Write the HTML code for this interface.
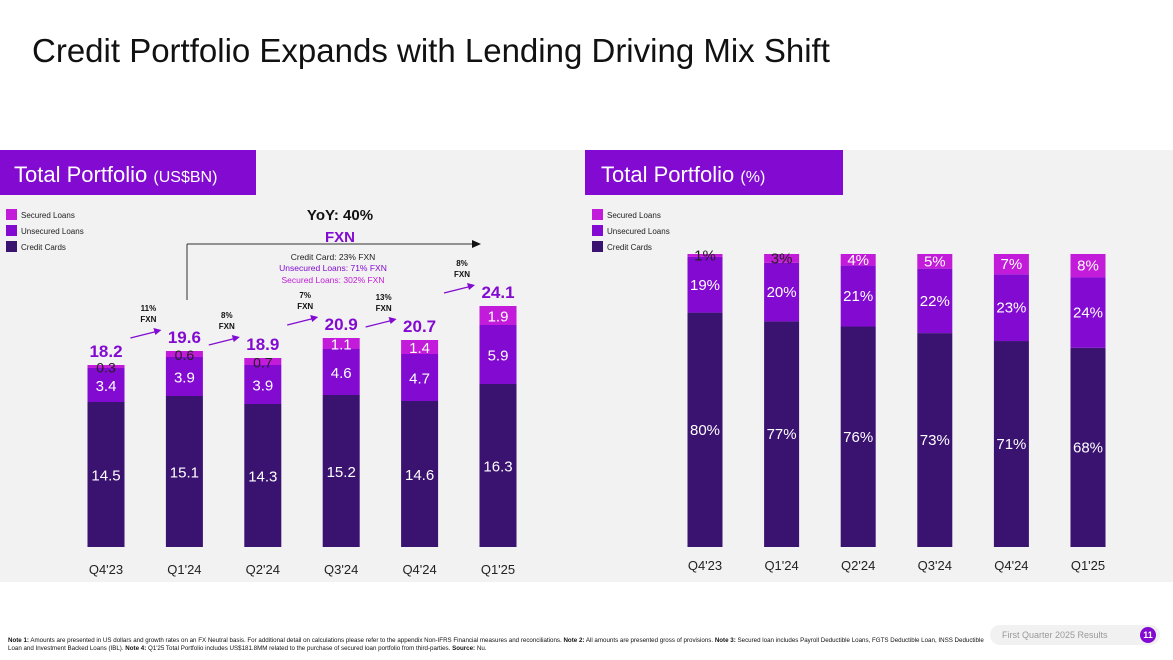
<!DOCTYPE html>
<html><head><meta charset="utf-8"><style>
body{margin:0;width:1173px;height:660px;background:#fff;font-family:"Liberation Sans",sans-serif;overflow:hidden;position:relative}
.abs{position:absolute}
</style></head><body>
<div class="abs" style="left:32px;top:32px;font-size:33px;color:#111">Credit Portfolio Expands with Lending Driving Mix Shift</div>
<div class="abs" style="left:0;top:150px;width:1173px;height:432px;background:#f2f2f2"></div>
<div class="abs" style="left:0;top:150px;width:256px;height:45px;background:#820ad1;color:#fff;font-size:22px;line-height:50px;padding-left:14px;box-sizing:border-box">Total Portfolio <span style="font-size:16px">(US$BN)</span></div>
<div class="abs" style="left:585px;top:150px;width:258px;height:45px;background:#820ad1;color:#fff;font-size:22px;line-height:50px;padding-left:16px;box-sizing:border-box">Total Portfolio <span style="font-size:16px">(%)</span></div>
<svg id="chart" class="abs" style="left:0;top:0" width="1173" height="660"></svg>
<div class="abs" style="left:8px;top:637px;font-size:6.2px;line-height:8px;color:#111;width:980px"><b>Note 1:</b> Amounts are presented in US dollars and growth rates on an FX Neutral basis. For additional detail on calculations please refer to the appendix Non-IFRS Financial measures and reconciliations. <b>Note 2:</b> All amounts are presented gross of provisions. <b>Note 3:</b> Secured loan includes Payroll Deductible Loans, FGTS Deductible Loan, INSS Deductible Loan and Investment Backed Loans (IBL). <b>Note 4:</b> Q1'25 Total Portfolio includes US$181.8MM related to the purchase of secured loan portfolio from third-parties. <b>Source:</b> Nu.</div>
<div class="abs" style="left:990px;top:625px;width:170px;height:20px;background:#f1f1f1;border-radius:10px;font-size:9px;color:#999;line-height:20px;padding-left:12px;box-sizing:border-box">First Quarter 2025 Results</div>
<div class="abs" style="left:1140px;top:627px;width:16px;height:16px;border-radius:8px;background:#820ad1;color:#fff;font-size:9px;font-weight:bold;text-align:center;line-height:16px">11</div>
<script>
const categories=["Q4'23","Q1'24","Q2'24","Q3'24","Q4'24","Q1'25"];
const creditBn=[14.5,15.1,14.3,15.2,14.6,16.3];
const unsecuredBn=[3.4,3.9,3.9,4.6,4.7,5.9];
const securedBn=[0.3,0.6,0.7,1.1,1.4,1.9];
const totalsBn=[18.2,19.6,18.9,20.9,20.7,24.1];
const growthLabels=["11%","8%","7%","13%","8%"];
const creditPct=[80,77,76,73,71,68];
const unsecuredPct=[19,20,21,22,23,24];
const securedPct=[1,3,4,5,7,8];
const C1="#3a1270",C2="#820ad1",C3="#c21bd9";
const svg=document.getElementById('chart');
const NS="http://www.w3.org/2000/svg";
function mk(tag,attrs,name){const e=document.createElementNS(NS,tag);for(const k in attrs)e.setAttribute(k,attrs[k]);


svg.appendChild(e);return e;}
function txt(x,y,s,size,fill,name,weight,anchor){const t=mk('text',{x:x,y:y,'font-size':size,fill:fill,'font-family':'Liberation Sans, sans-serif','text-anchor':anchor||'middle','font-weight':weight||'normal'},name);t.textContent=s;return t;}
const base=547;
const lx=i=>106+i*78.4, ly=v=>base-v*10, lw=37;
function legend(x0,name){[[C3,"Secured Loans"],[C2,"Unsecured Loans"],[C1,"Credit Cards"]].forEach((d,k)=>{
mk('rect',{x:x0,y:209+k*16,width:11,height:11,fill:d[0]},name+'-swatch');
txt(x0+15,218+k*16,d[1],8,'#222',name+'-label','normal','start');});}
legend(6,'left-legend');legend(592,'right-legend');
categories.forEach((c,i)=>{
 const x=lx(i)-lw/2;let y0=base;
 [[creditBn[i],C1,'credit'],[unsecuredBn[i],C2,'unsecured'],[securedBn[i],C3,'secured']].forEach(s=>{
  const h=s[0]*10;mk('rect',{x:x,y:y0-h,width:lw,height:h,fill:s[1]},'bar-'+s[2]+'-bn');
  const small=s[0]<1.0;
  txt(lx(i),y0-h/2+6,s[0].toFixed(1),small?14:15,small?'#222':'#fff','value-'+s[2]+'-bn');
  y0-=h;});
 txt(lx(i),ly(totalsBn[i])-8,totalsBn[i].toFixed(1),17,'#820ad1','total-label','bold');
 txt(lx(i),574,c,13,'#222','x-label-right'.replace('right','left'));
 if(i<5){const bx=lx(i+1)-26, by=ly(totalsBn[i+1])-20, ax=bx-28, ay=by+7;
  mk('line',{x1:ax,y1:ay,x2:bx,y2:by,stroke:'#820ad1','stroke-width':1.2},'growth-arrow');
  mk('polygon',{points:`${bx+3},${by-1} ${bx-5},${by-3} ${bx-3},${by+4}`,fill:'#820ad1'},'growth-arrowhead');
  const mx=bx-10;
  txt(mx,by-20,growthLabels[i],8,'#111','growth-pct','bold');
  txt(mx,by-9,'FXN',8,'#111','growth-fxn','bold');}
});
mk('line',{x1:187,y1:244,x2:187,y2:300,stroke:'#333','stroke-width':1},'yoy-bracket-left');
mk('line',{x1:187,y1:244,x2:473,y2:244,stroke:'#333','stroke-width':1},'yoy-bracket-top');
mk('polygon',{points:'481,244 472,240 472,248',fill:'#111'},'yoy-arrowhead');
txt(340,220,'YoY: 40%',15,'#111','yoy-title','bold');
txt(340,242,'FXN',15,'#820ad1','yoy-fxn','bold');
txt(333,260,'Credit Card: 23% FXN',8.5,'#222','yoy-credit');
txt(333,271,'Unsecured Loans: 71% FXN',8.5,'#820ad1','yoy-unsecured');
txt(333,283,'Secured Loans: 302% FXN',8.5,'#c21bd9','yoy-secured');
const rx=i=>705+i*76.6, rw=35, H=293;
categories.forEach((c,i)=>{
 const tot=creditPct[i]+unsecuredPct[i]+securedPct[i];let y0=base;
 [[creditPct[i],C1,'credit'],[unsecuredPct[i],C2,'unsecured'],[securedPct[i],C3,'secured']].forEach(s=>{
  const h=s[0]/tot*H;mk('rect',{x:rx(i)-rw/2,y:y0-h,width:rw,height:h,fill:s[1]},'bar-'+s[2]+'-pct');
  const small=s[0]<4;
  txt(rx(i),y0-h/2+5,s[0]+'%',15,small?'#222':'#fff','value-'+s[2]+'-pct');
  y0-=h;});
 txt(rx(i),570,c,13,'#222','x-label-right');
});
</script>
</body></html>
